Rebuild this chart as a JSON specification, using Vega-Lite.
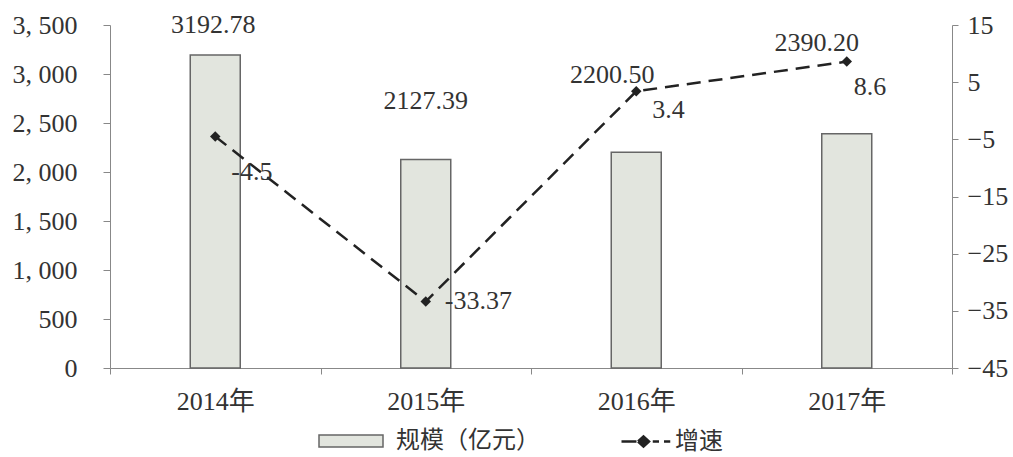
{
  "$schema": "https://vega.github.io/schema/vega-lite/v6.json",
  "autosize": "none",
  "padding": {"left": 110, "top": 25, "right": 61, "bottom": 89},
  "width": 842,
  "height": 343,
  "background": "white",
  "config": {
    "view": {"stroke": null},
    "font": "Liberation Serif, Noto Sans CJK SC",
    "axis": {
      "labelFont": "Liberation Serif, Noto Sans CJK SC",
      "labelFontSize": 26,
      "labelColor": "#333333",
      "domainColor": "#888888",
      "tickColor": "#888888",
      "grid": false,
      "title": null
    },
    "legend": {
      "labelFont": "Liberation Serif, Noto Sans CJK SC",
      "labelFontSize": 24,
      "labelColor": "#333333"
    },
    "text": {"font": "Liberation Serif, Noto Sans CJK SC", "fontSize": 26, "fill": "#333333", "baseline": "middle"}
  },
  "data": {
    "values": [
      {"year": "2014年", "scale": 3192.78, "growth": -4.5},
      {"year": "2015年", "scale": 2127.39, "growth": -33.37},
      {"year": "2016年", "scale": 2200.50, "growth": 3.4},
      {"year": "2017年", "scale": 2390.20, "growth": 8.6}
    ]
  },
  "encoding": {
    "x": {
      "field": "year",
      "type": "nominal",
      "sort": null,
      "scale": {"paddingInner": 0, "paddingOuter": 0},
      "axis": {"labelAngle": 0, "tickBand": "extent", "tickSize": 6, "labelPadding": 14, "title": null}
    }
  },
  "layer": [
    {
      "layer": [
        {
          "mark": {"type": "bar", "size": 50, "stroke": "#666666", "strokeWidth": 1.5},
          "encoding": {
            "y": {
              "field": "scale",
              "type": "quantitative",
              "scale": {"domain": [0, 3500], "nice": false},
              "axis": {
                "orient": "left",
                "values": [0, 500, 1000, 1500, 2000, 2500, 3000, 3500],
                "labelExpr": "replace(format(datum.value, ','), ',', ', ')",
                "tickSize": 7,
                "labelPadding": 26,
                "title": null
              }
            },
            "fill": {
              "datum": "规模（亿元）",
              "type": "nominal",
              "scale": {"range": ["#e2e5de"]},
              "legend": {
                "title": null,
                "orient": "none",
                "legendX": 208,
                "legendY": 383,
                "symbolType": "M-1,-0.19H1V0.19H-1Z",
                "symbolSize": 4096,
                "symbolStrokeColor": "#666666",
                "symbolStrokeWidth": 1.5,
                "labelOffset": 12
              }
            }
          }
        },
        {
          "transform": [{"filter": "datum.year === '2014年'"}],
          "mark": {"type": "text", "dy": -30, "dx": -2},
          "encoding": {
            "y": {"field": "scale", "type": "quantitative"},
            "text": {"field": "scale", "type": "quantitative", "format": ".2f"}
          }
        },
        {
          "transform": [{"filter": "datum.year === '2015年'"}],
          "mark": {"type": "text", "dy": -59, "dx": 0},
          "encoding": {
            "y": {"field": "scale", "type": "quantitative"},
            "text": {"field": "scale", "type": "quantitative", "format": ".2f"}
          }
        },
        {
          "transform": [{"filter": "datum.year === '2016年'"}],
          "mark": {"type": "text", "dy": -77, "dx": -24},
          "encoding": {
            "y": {"field": "scale", "type": "quantitative"},
            "text": {"field": "scale", "type": "quantitative", "format": ".2f"}
          }
        },
        {
          "transform": [{"filter": "datum.year === '2017年'"}],
          "mark": {"type": "text", "dy": -91, "dx": -30},
          "encoding": {
            "y": {"field": "scale", "type": "quantitative"},
            "text": {"field": "scale", "type": "quantitative", "format": ".2f"}
          }
        }
      ]
    },
    {
      "layer": [
        {
          "mark": {"type": "line", "strokeDash": [14, 8], "strokeWidth": 2.5},
          "encoding": {
            "y": {
              "field": "growth",
              "type": "quantitative",
              "scale": {"domain": [-45, 15], "nice": false},
              "axis": {
                "orient": "right",
                "values": [-45, -35, -25, -15, -5, 5, 15],
                "tickSize": 6,
                "labelPadding": 9,
                "title": null
              }
            },
            "stroke": {
              "datum": "增速",
              "type": "nominal",
              "scale": {"range": ["#222222"]},
              "legend": {
                "title": null,
                "orient": "none",
                "legendX": 510,
                "legendY": 390,
                "symbolType": "M-1,0H-0.4M-0.34,0L-0.12,-0.2L0.1,0L-0.12,0.2ZM0.25,0H0.5M0.7,0H0.95",
                "symbolSize": 2500,
                "symbolStrokeColor": "#222222",
                "symbolFillColor": "#222222",
                "symbolStrokeWidth": 2.5,
                "symbolDash": [100, 0],
                "labelOffset": 2
              }
            }
          }
        },
        {
          "mark": {"type": "point", "shape": "diamond", "filled": true, "size": 110, "color": "#222222", "opacity": 1},
          "encoding": {
            "y": {"field": "growth", "type": "quantitative"}
          }
        },
        {
          "transform": [{"filter": "datum.year === '2014年'"}],
          "mark": {"type": "text", "align": "left", "dx": 16, "dy": 36},
          "encoding": {
            "y": {"field": "growth", "type": "quantitative"},
            "text": {"field": "growth", "type": "nominal"}
          }
        },
        {
          "transform": [{"filter": "datum.year === '2015年'"}],
          "mark": {"type": "text", "align": "left", "dx": 19, "dy": -1},
          "encoding": {
            "y": {"field": "growth", "type": "quantitative"},
            "text": {"field": "growth", "type": "nominal"}
          }
        },
        {
          "transform": [{"filter": "datum.year === '2016年'"}],
          "mark": {"type": "text", "align": "left", "dx": 16, "dy": 19},
          "encoding": {
            "y": {"field": "growth", "type": "quantitative"},
            "text": {"field": "growth", "type": "nominal"}
          }
        },
        {
          "transform": [{"filter": "datum.year === '2017年'"}],
          "mark": {"type": "text", "align": "left", "dx": 7, "dy": 25},
          "encoding": {
            "y": {"field": "growth", "type": "quantitative"},
            "text": {"field": "growth", "type": "nominal"}
          }
        }
      ]
    }
  ],
  "resolve": {"scale": {"y": "independent"}}
}
